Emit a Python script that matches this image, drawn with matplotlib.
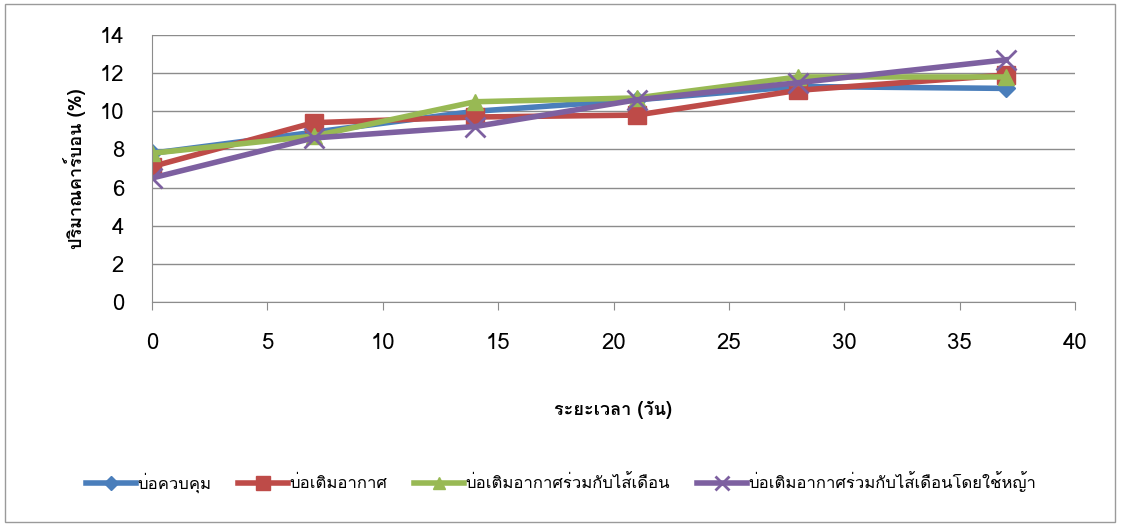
import sys
import matplotlib

matplotlib.use("Agg")
import matplotlib.pyplot as plt
from matplotlib import font_manager
from matplotlib.ft2font import FT2Font

# ---- data ------------------------------------------------------------------ #
DAYS = [0, 7, 14, 21, 28, 37]
CONTROL = [7.8, 8.9, 10.0, 10.6, 11.3, 11.2]
AERATED = [7.1, 9.4, 9.7, 9.8, 11.1, 11.9]
AERATED_WORMS = [7.8, 8.7, 10.5, 10.7, 11.8, 11.8]
AERATED_WORMS_GRASS = [6.5, 8.6, 9.2, 10.6, 11.5, 12.7]
LABELS = [
    "บ่อควบคุม",
    "บ่อเติมอากาศ",
    "บ่อเติมอากาศร่วมกับไส้เดือน",
    "บ่อเติมอากาศร่วมกับไส้เดือนโดยใช้หญ้า",
]


def thai_families():
    # any installed face that carries Thai glyphs
    found = []
    for entry in font_manager.fontManager.ttflist:
        try:
            if ord("ก") in FT2Font(entry.fname).get_charmap():
                if entry.name not in found:
                    found.append(entry.name)
        except Exception:
            pass
    print("thai fonts:", found, file=sys.stderr)
    return found


plt.rcParams["font.family"] = thai_families() + ["DejaVu Sans"]

SERIES = [CONTROL, AERATED, AERATED_WORMS, AERATED_WORMS_GRASS]
COLORS = ["#4a7ebb", "#be4b48", "#98b954", "#7d60a0"]
MARKERS = ["D", "s", "^", "x"]
SIZES = [9, 13, 12, 14]
GRID = "#8c8c8c"

fig = plt.figure(figsize=(11.22, 5.26), dpi=100)
ax = fig.add_axes([152 / 1122, 1 - 302 / 526, (1075 - 152) / 1122, (302 - 35) / 526])

for values, label, color, marker, size in zip(SERIES, LABELS, COLORS, MARKERS, SIZES):
    ax.plot(DAYS, values, color=color, lw=4, marker=marker, ms=size,
            mew=2 if marker == "x" else 1, label=label)

ax.set_xlim(0, 40)
ax.set_ylim(0, 14)
ax.set_xticks(range(0, 41, 5))
ax.set_yticks(range(0, 15, 2))
ax.yaxis.grid(True, color=GRID, lw=1)
ax.set_axisbelow(True)
for side in ("top", "right"):
    ax.spines[side].set_visible(False)
ax.spines["left"].set_color(GRID)
ax.spines["bottom"].set_color(GRID)
ax.tick_params(axis="y", length=0, labelsize=16, pad=20)
ax.tick_params(axis="x", length=6, color=GRID, labelsize=16, pad=16)

ax.set_xlabel("ระยะเวลา (วัน)", fontsize=13, fontweight="bold", labelpad=34)
ax.set_ylabel("ปริมาณคาร์บอน (%)", fontsize=13, fontweight="bold", labelpad=10)

fig.legend(loc="center", bbox_to_anchor=(0.5, 1 - 482 / 526), ncol=4,
           frameon=False, fontsize=12, handlelength=3.0, columnspacing=1.6,
           handletextpad=0.1, markerscale=0.75)

fig.patches.append(plt.Rectangle((5 / 1122, 4 / 526), 1110 / 1122, 518 / 526,
                                 transform=fig.transFigure, fill=False,
                                 edgecolor="#9a9a9a", lw=1))

fig.savefig("out.png", dpi=100)
